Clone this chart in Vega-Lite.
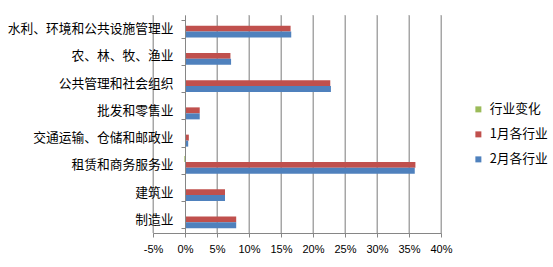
{
  "$schema": "https://vega.github.io/schema/vega-lite/v6.json",
  "width": 288,
  "height": 218,
  "autosize": {"type": "none"},
  "padding": {"left": 153, "top": 15, "right": 112, "bottom": 34},
  "background": "white",
  "config": {
    "view": {"stroke": null},
    "font": "Noto Sans CJK SC",
    "axisX": {
      "grid": true,
      "gridColor": "#A6A6A6"
    }
  },
  "resolve": {"axis": {"x": "independent"}},
  "layer": [
    {
      "data": {
        "values": [
          {"tick": -0.05}, {"tick": 0.05}, {"tick": 0.1}, {"tick": 0.15}, {"tick": 0.2},
          {"tick": 0.25}, {"tick": 0.3}, {"tick": 0.35}, {"tick": 0.4}
        ]
      },
      "mark": {"type": "rule", "color": "#A6A6A6", "strokeWidth": 1},
      "encoding": {
        "x": {
          "field": "tick",
          "type": "quantitative",
          "scale": {"domain": [-0.05, 0.40], "nice": false, "zero": false},
          "axis": {
            "orient": "top",
            "title": null,
            "grid": true,
            "gridColor": "#A6A6A6",
            "labels": false,
            "ticks": false,
            "domain": false
          }
        }
      }
    },
    {
      "data": {
        "values": [
          {"industry": "水利、环境和公共设施管理业", "series": "行业变化", "value": 0.0},
          {"industry": "水利、环境和公共设施管理业", "series": "1月各行业", "value": 0.165},
          {"industry": "水利、环境和公共设施管理业", "series": "2月各行业", "value": 0.166},
          {"industry": "农、林、牧、渔业", "series": "行业变化", "value": 0.0},
          {"industry": "农、林、牧、渔业", "series": "1月各行业", "value": 0.071},
          {"industry": "农、林、牧、渔业", "series": "2月各行业", "value": 0.072},
          {"industry": "公共管理和社会组织", "series": "行业变化", "value": 0.0},
          {"industry": "公共管理和社会组织", "series": "1月各行业", "value": 0.227},
          {"industry": "公共管理和社会组织", "series": "2月各行业", "value": 0.228},
          {"industry": "批发和零售业", "series": "行业变化", "value": 0.0},
          {"industry": "批发和零售业", "series": "1月各行业", "value": 0.023},
          {"industry": "批发和零售业", "series": "2月各行业", "value": 0.023},
          {"industry": "交通运输、仓储和邮政业", "series": "行业变化", "value": 0.0},
          {"industry": "交通运输、仓储和邮政业", "series": "1月各行业", "value": 0.006},
          {"industry": "交通运输、仓储和邮政业", "series": "2月各行业", "value": 0.005},
          {"industry": "租赁和商务服务业", "series": "行业变化", "value": -0.001},
          {"industry": "租赁和商务服务业", "series": "1月各行业", "value": 0.360},
          {"industry": "租赁和商务服务业", "series": "2月各行业", "value": 0.359},
          {"industry": "建筑业", "series": "行业变化", "value": 0.0},
          {"industry": "建筑业", "series": "1月各行业", "value": 0.0625},
          {"industry": "建筑业", "series": "2月各行业", "value": 0.0625},
          {"industry": "制造业", "series": "行业变化", "value": 0.0},
          {"industry": "制造业", "series": "1月各行业", "value": 0.080},
          {"industry": "制造业", "series": "2月各行业", "value": 0.080}
        ]
      },
      "mark": {"type": "bar"},
      "encoding": {
        "y": {
          "field": "industry",
          "type": "nominal",
          "sort": ["水利、环境和公共设施管理业", "农、林、牧、渔业", "公共管理和社会组织", "批发和零售业", "交通运输、仓储和邮政业", "租赁和商务服务业", "建筑业", "制造业"],
          "scale": {"paddingInner": 0.34, "paddingOuter": 0.17},
          "axis": {
            "title": null,
            "offset": -32,
            "domainColor": "#868686",
            "tickColor": "#868686",
            "tickBand": "extent",
            "tickSize": 4,
            "labelPadding": 8,
            "labelFontSize": 12.75,
            "labelColor": "#000000",
            "labelFont": "Noto Sans CJK SC",
            "grid": false,
            "zindex": 1
          }
        },
        "yOffset": {
          "field": "series",
          "type": "nominal",
          "sort": ["行业变化", "1月各行业", "2月各行业"],
          "scale": {"paddingInner": 0, "paddingOuter": 0}
        },
        "x": {
          "field": "value",
          "type": "quantitative",
          "scale": {"domain": [-0.05, 0.40], "nice": false, "zero": false},
          "axis": {
            "orient": "bottom",
            "title": null,
            "values": [-0.05, 0, 0.05, 0.1, 0.15, 0.2, 0.25, 0.3, 0.35, 0.4],
            "labelExpr": "round(datum.value*100) + '%'",
            "labelOverlap": false,
            "labelBound": false,
            "labelFlush": false,
            "grid": false,
            "domainColor": "#868686",
            "tickColor": "#868686",
            "tickSize": 4,
            "labelPadding": 6,
            "labelFontSize": 11,
            "labelFont": "Liberation Sans",
            "labelColor": "#000000"
          }
        },
        "color": {
          "field": "series",
          "type": "nominal",
          "scale": {"domain": ["行业变化", "1月各行业", "2月各行业"], "range": ["#9BBB59", "#C0504D", "#4F81BD"]},
          "legend": {
            "title": null,
            "orient": "none",
            "legendX": 319,
            "legendY": 88,
            "padding": 0,
            "symbolType": "square",
            "symbolSize": 36,
            "symbolStrokeWidth": 0,
            "labelOffset": 5,
            "labelFontSize": 12.75,
            "labelFont": "Noto Sans CJK SC",
            "labelColor": "#000000",
            "rowPadding": 11
          }
        }
      }
    }
  ]
}
